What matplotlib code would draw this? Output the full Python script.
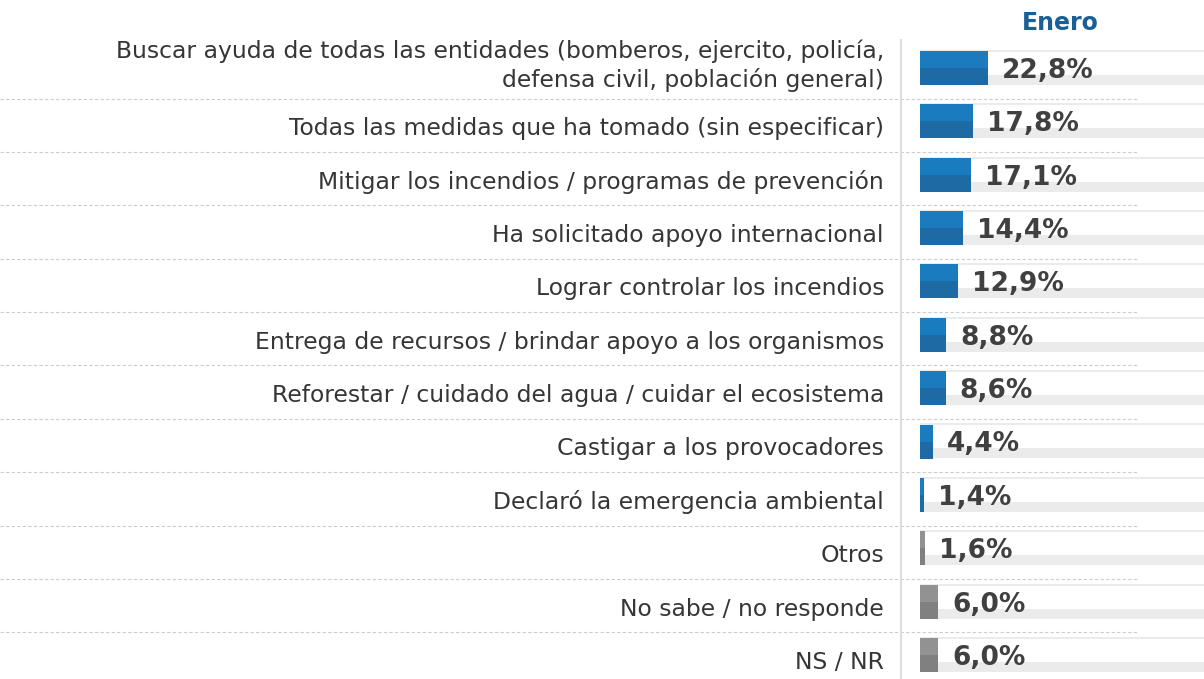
import matplotlib
matplotlib.use("Agg")
import matplotlib.pyplot as plt
from matplotlib.patches import Rectangle

categories = [
    "Buscar ayuda de todas las entidades (bomberos, ejercito, policía,\ndefensa civil, población general)",
    "Todas las medidas que ha tomado (sin especificar)",
    "Mitigar los incendios / programas de prevención",
    "Ha solicitado apoyo internacional",
    "Lograr controlar los incendios",
    "Entrega de recursos / brindar apoyo a los organismos",
    "Reforestar / cuidado del agua / cuidar el ecosistema",
    "Castigar a los provocadores",
    "Declaró la emergencia ambiental",
    "Otros",
    "No sabe / no responde",
    "NS / NR",
]
values = [22.8, 17.8, 17.1, 14.4, 12.9, 8.8, 8.6, 4.4, 1.4, 1.6, 6.0, 6.0]
is_gray = [False] * 9 + [True] * 3
title = "Enero"

W, H = 1204, 679
fig = plt.figure(figsize=(W / 100, H / 100), dpi=100)
fig.patch.set_facecolor("white")

# axes holding the bars: starts at the bar origin and runs to the right edge
x0_px, top_px, pitch = 920, 41.3, 53.36
n = len(values)
bottom_px = top_px + pitch * n
ax = fig.add_axes([x0_px / W, 1 - bottom_px / H, (W - x0_px) / W, (bottom_px - top_px) / H])
px_per_unit = 2.98
xmax = (W - x0_px) / px_per_unit
ax.set_xlim(0, xmax)
ax.set_ylim(n - 0.5, -0.5)
ax.axis("off")

bar_h = 34 / pitch
band_h = 10 / pitch
blue_top, blue_bot = "#1a7bbf", "#1d6aa4"
gray_top, gray_bot = "#929292", "#808080"
font = "DejaVu Sans"
pt = 72 / 100  # points per pixel at 100 dpi

for i, (cat, v, g) in enumerate(zip(categories, values, is_gray)):
    top = i - bar_h / 2
    # track behind the bar
    ax.add_patch(Rectangle((0, top + bar_h - band_h), xmax, band_h, color="#ebebeb", lw=0, zorder=1))
    ax.plot([0, xmax], [top, top], color="#e8e8e8", lw=1.2, zorder=1, solid_capstyle="butt")
    # bar in two tones
    ct, cb = (gray_top, gray_bot) if g else (blue_top, blue_bot)
    ax.barh(i, v, height=bar_h, color=cb, lw=0, zorder=2)
    ax.barh(i - bar_h / 4, v, height=bar_h / 2, color=ct, lw=0, zorder=3)
    # value label
    ax.annotate(f"{v:.1f}".replace(".", ",") + "%", xy=(v, i), xytext=(14 * pt, -10 * pt),
                textcoords="offset points", ha="left", va="baseline",
                fontsize=19, fontweight="bold", color="#404040", family=font, zorder=4)
    # category label, line by line
    lines = cat.split("\n")
    m = len(lines)
    for k, line in enumerate(lines):
        dy = 14 + 5 * (m - 1) - (m - 1 - k) * 29
        ax.annotate(line, xy=(0, i), xycoords=ax.get_yaxis_transform(),
                    xytext=(-36 * pt, -dy * pt), textcoords="offset points",
                    ha="right", va="baseline", fontsize=16.9, color="#363636",
                    family=font, annotation_clip=False)
    # dashed separator
    if i < n - 1:
        ys = i + 0.5 + 4 / pitch
        ax.plot([-x0_px / (W - x0_px), (1138 - x0_px) / (W - x0_px)], [ys, ys],
                transform=ax.get_yaxis_transform(), color="#cccccc", lw=0.8,
                ls=(0, (3, 2)), clip_on=False, zorder=0)

# vertical divider
ax.plot([(901 - x0_px) / (W - x0_px)] * 2, [-0.5 - 1.5 / pitch, n - 0.5],
        transform=ax.get_yaxis_transform(), color="#dddddd", lw=1.5, clip_on=False)

fig.text(1060 / W, 1 - 30 / H, title, ha="center", va="baseline", fontsize=17,
         fontweight="bold", color="#1a5f96", family=font)

fig.savefig("out.png", dpi=100, facecolor="white")
